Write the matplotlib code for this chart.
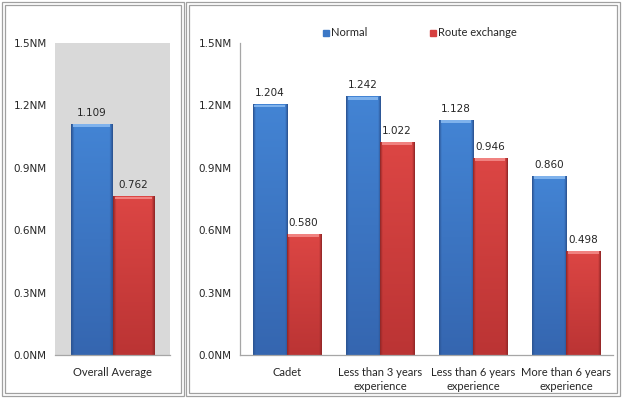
import matplotlib
matplotlib.use('Agg')
import matplotlib.pyplot as plt
import numpy as np
from matplotlib.patches import Rectangle
from matplotlib.colors import to_rgb

# overall averages
overall_label = ['Overall Average']
overall_normal = [1.109]
overall_route = [0.762]

# by experience group
groups = ['Cadet', 'Less than 3 years\nexperience', 'Less than 6 years\nexperience',
          'More than 6 years\nexperience']
normal = [1.204, 1.242, 1.128, 0.860]
route = [0.580, 1.022, 0.946, 0.498]

yticks = [0.0, 0.3, 0.6, 0.9, 1.2, 1.5]

txt_color = '#262626'
label_font = ['Lato', 'DejaVu Sans']


def bar_image(top, bottom, edge):
    # vertical fade top->bottom, darker at the side edges
    ny, nx = 80, 40
    t = np.linspace(0, 1, ny)[:, None, None]
    img = (1 - t) * np.array(to_rgb(top)) + t * np.array(to_rgb(bottom))
    img = np.repeat(img, nx, axis=1)
    xs = np.linspace(0, 1, nx)
    side = np.clip(1 - np.minimum(xs, 1 - xs) / 0.07, 0, 1)[None, :, None]
    img = img * (1 - side) + side * np.array(to_rgb(edge))
    return img


def shade_bars(ax, bars, top, bottom, edge, cap):
    img = bar_image(top, bottom, edge)
    for b in bars:
        x0, w, h = b.get_x(), b.get_width(), b.get_height()
        ax.imshow(img, aspect='auto', extent=[x0, x0 + w, 0, h], origin='upper',
                  zorder=2, interpolation='bilinear')
        ax.add_patch(Rectangle((x0 + w * 0.05, h - 0.014), w * 0.9, 0.014,
                               color=cap, zorder=3, lw=0))
        b.set_alpha(0)


def bar_chart(ax, labels, s1, s2, width):
    x = np.arange(len(labels))
    b1 = ax.bar(x - width / 2, s1, width, color='#3c78c6', zorder=2)
    b2 = ax.bar(x + width / 2, s2, width, color='#d64040', zorder=2)
    shade_bars(ax, b1, '#4384d4', '#3566b0', '#2c5594', '#7fb2ec')
    shade_bars(ax, b2, '#dc4644', '#bb3434', '#952828', '#f08280')
    for bars, vals in ((b1, s1), (b2, s2)):
        for b, v in zip(bars, vals):
            ax.text(b.get_x() + b.get_width() / 2, v + 0.03, '%.3f' % v,
                    ha='center', va='bottom', fontsize=7.5, color=txt_color)
    ax.set_xticks(x)
    ax.set_xticklabels(labels, fontsize=8, color=txt_color, linespacing=1.25,
                       family=label_font)
    ax.set_xlim(-0.5, len(labels) - 0.5)
    ax.set_ylim(0, 1.5)
    ax.set_yticks(yticks)
    ax.set_yticklabels(['%.1fNM' % t for t in yticks], fontsize=7.5, color=txt_color)
    ax.tick_params(axis='y', length=0, pad=6)
    ax.tick_params(axis='x', length=0, pad=9)
    for s in ('top', 'right'):
        ax.spines[s].set_visible(False)
    for s in ('left', 'bottom'):
        ax.spines[s].set_color('#a6a6a6')
        ax.spines[s].set_linewidth(0.9)
    return b1, b2


fig = plt.figure(figsize=(6.22, 3.98), dpi=100)

ax1 = fig.add_axes([55 / 622, 43 / 398, 115 / 622, 312 / 398])
ax1.set_facecolor('#d9d9d9')
bar_chart(ax1, overall_label, overall_normal, overall_route, 0.36)
ax1.spines['left'].set_visible(False)

ax2 = fig.add_axes([240 / 622, 43 / 398, 373 / 622, 312 / 398])
bar_chart(ax2, groups, normal, route, 0.365)

# legend
for lx, col, name in ((323, '#3c78c6', 'Normal'), (430, '#d64040', 'Route exchange')):
    fig.patches.append(Rectangle((lx / 622, 1 - 36 / 398), 6 / 622, 6 / 398,
                                 transform=fig.transFigure, color=col))
    fig.text((lx + 8) / 622, 1 - 33 / 398, name, fontsize=8, color=txt_color,
             va='center', ha='left', family=label_font)

# double panel frames
for (x0, x1) in ((2, 184), (186, 620)):
    for off in (0, 3):
        fig.patches.append(Rectangle(((x0 + off) / 622, (2 + off) / 398),
                                     (x1 - x0 - 2 * off) / 622, (394 - 2 * off) / 398,
                                     transform=fig.transFigure, fill=False,
                                     edgecolor='#a0a0a0', lw=0.9))

fig.savefig('out.png', dpi=100)
